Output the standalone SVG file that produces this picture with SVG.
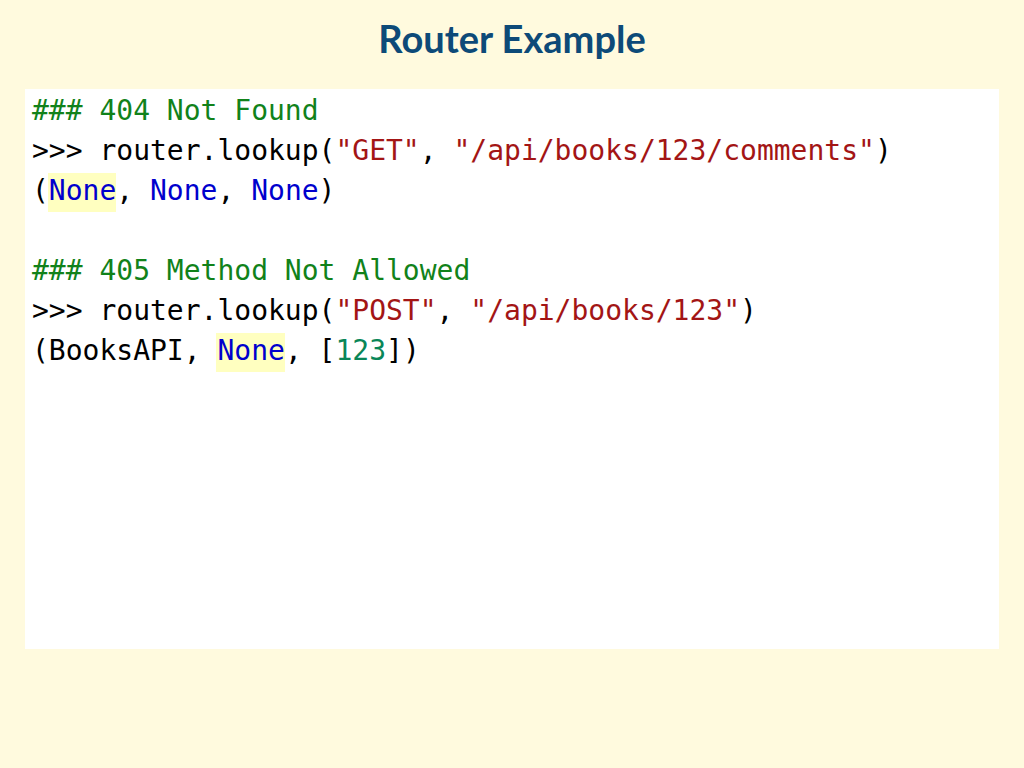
<svg xmlns="http://www.w3.org/2000/svg" width="1024" height="768" viewBox="0 0 1024 768">
<style>
.c{font-family:"DejaVu Sans Mono",monospace;font-size:28px;fill:#000;white-space:pre}
.g{fill:#11821a}.s{fill:#a31515}.k{fill:#0000cd}.n{fill:#098658}
.h{fill:#ffffc0}
</style>
<rect width="1024" height="768" fill="#fffade"/>
<text x="512" y="53" text-anchor="middle" font-family="Lato, 'Open Sans', sans-serif" font-weight="bold" font-size="38" fill="#0d4a78">Router Example</text>
<rect x="25" y="89" width="974" height="560" fill="#fff"/>
<rect class="h" x="48" y="173" width="68" height="39"/>
<rect class="h" x="216" y="333" width="69" height="39"/>
<text class="c g" x="32" y="120">### 404 Not Found</text>
<text class="c" x="32" y="160">&gt;&gt;&gt; router.lookup(<tspan class="s">"GET"</tspan>, <tspan class="s">"/api/books/123/comments"</tspan>)</text>
<text class="c" x="32" y="200">(<tspan class="k">None</tspan>, <tspan class="k">None</tspan>, <tspan class="k">None</tspan>)</text>
<text class="c g" x="32" y="280">### 405 Method Not Allowed</text>
<text class="c" x="32" y="320">&gt;&gt;&gt; router.lookup(<tspan class="s">"POST"</tspan>, <tspan class="s">"/api/books/123"</tspan>)</text>
<text class="c" x="32" y="360">(BooksAPI, <tspan class="k">None</tspan>, [<tspan class="n">123</tspan>])</text>
</svg>
